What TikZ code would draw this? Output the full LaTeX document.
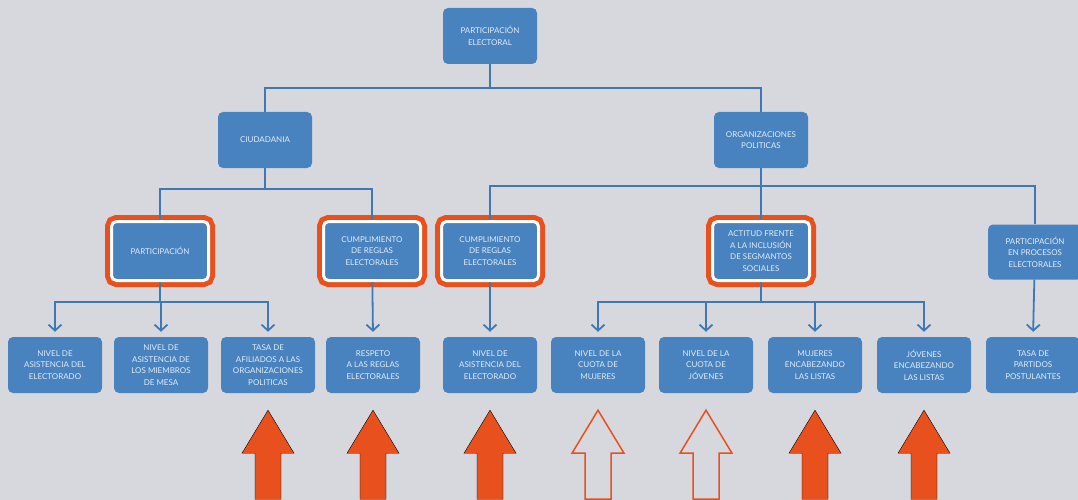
\documentclass[tikz,border=0pt]{standalone}
\usepackage{fontspec}
\setmainfont{Lato}
\usetikzlibrary{arrows.meta,calc}
\definecolor{bgc}{RGB}{214,216,221}
\definecolor{boxc}{RGB}{72,131,191}
\definecolor{linec}{RGB}{62,121,181}
\definecolor{arrc}{RGB}{232,80,30}
\definecolor{txtc}{RGB}{226,235,245}
\begin{document}
\begin{tikzpicture}[x=1pt, y=-1pt,
  box/.style={fill=boxc, rounded corners=5pt, text=txtc, align=center, inner sep=1pt,
    font=\fontsize{8}{11.5}\selectfont, minimum width=94pt, minimum height=56pt},
  hbox/.style={box, draw=white, line width=3pt, minimum width=97pt, minimum height=59pt,
    preaction={draw=arrc, line width=13pt}},
  conn/.style={draw=linec, line width=1.8pt},
  tip/.style={conn, -{Straight Barb[length=6pt, width=13pt, line width=1.8pt]}, shorten >=5pt},
  fullarrow/.style={fill=arrc},
  openarrow/.style={draw=arrc, line width=1.5pt, fill=bgc}]

\useasboundingbox (0,0) rectangle (1078,500);
\fill[bgc] (0,0) rectangle (1078,500);

\node[box] (top) at (490,36) {PARTICIPACIÓN\\ELECTORAL};
\node[box] (ciud) at (265,140) {CIUDADANIA};
\node[box] (org) at (761,140) {ORGANIZACIONES\\POLITICAS};

\node[hbox] (part) at (160,251) {PARTICIPACIÓN};
\node[hbox] (cumpa) at (372,251) {CUMPLIMIENTO\\DE REGLAS\\ELECTORALES};
\node[hbox] (cumpb) at (490,251) {CUMPLIMIENTO\\DE REGLAS\\ELECTORALES};
\node[hbox] (acti) at (761,251) {ACTITUD FRENTE\\A LA INCLUSIÓN\\DE SEGMANTOS\\SOCIALES};
\node[box, minimum height=55pt] (proc) at (1035,252) {PARTICIPACIÓN\\EN PROCESOS\\ELECTORALES};

\node[box] (b1) at (55,365) {NIVEL DE\\ASISTENCIA DEL\\ELECTORADO};
\node[box] (b2) at (161,365) {NIVEL DE\\ASISTENCIA DE\\LOS MIEMBROS\\DE MESA};
\node[box] (b3) at (268,365) {TASA DE\\AFILIADOS A LAS\\ORGANIZACIONES\\POLITICAS};
\node[box] (b4) at (373,365) {RESPETO\\A LAS REGLAS\\ELECTORALES};
\node[box] (b5) at (490,365) {NIVEL DE\\ASISTENCIA DEL\\ELECTORADO};
\node[box] (b6) at (598,365) {NIVEL DE LA\\CUOTA DE\\MUJERES};
\node[box] (b7) at (706,365) {NIVEL DE LA\\CUOTA DE\\JÓVENES};
\node[box] (b8) at (815,365) {MUJERES\\ENCABEZANDO\\LAS LISTAS};
\node[box] (b9) at (924,365) {JÓVENES\\ENCABEZANDO\\LAS LISTAS};
\node[box] (b10) at (1033,365) {TASA DE\\PARTIDOS\\POSTULANTES};

\coordinate (j0) at (490,88);
\coordinate (j1) at (265,189);
\coordinate (j2) at (761,186);
\coordinate (j3) at (160,302);
\coordinate (j4) at (761,302);

\draw[conn] (top) -- (j0);
\draw[conn] (ciud.north) |- (j0) -| (org.north);
\draw[conn] (ciud) -- (j1);
\draw[conn] (part.north) |- (j1) -| (cumpa.north);
\draw[conn] (org) -- (j2);
\draw[conn] (cumpb.north) |- (j2) -| (proc.north);
\draw[conn] (j2) -- (acti.north);

\draw[conn] (part) -- (j3);
\draw[conn] (acti) -- (j4);
\foreach \b in {b1,b2,b3} \draw[tip] (j3) -| (\b.north);
\foreach \b in {b6,b7,b8,b9} \draw[tip] (j4) -| (\b.north);
\draw[tip] (cumpa) -- (b4.north);
\draw[tip] (cumpb) -- (b5.north);
\draw[tip] (proc) -- (b10.north);

\foreach \b/\s in {b3/fullarrow,b4/fullarrow,b5/fullarrow,b6/openarrow,b7/openarrow,b8/fullarrow,b9/fullarrow}
  \draw[\s] (\b.south) ++(0,17) -- ++(26,43) -- ++(-13,0) -- ++(0,46) -- ++(-26,0) -- ++(0,-46) -- ++(-13,0) -- cycle;
\end{tikzpicture}
\end{document}
